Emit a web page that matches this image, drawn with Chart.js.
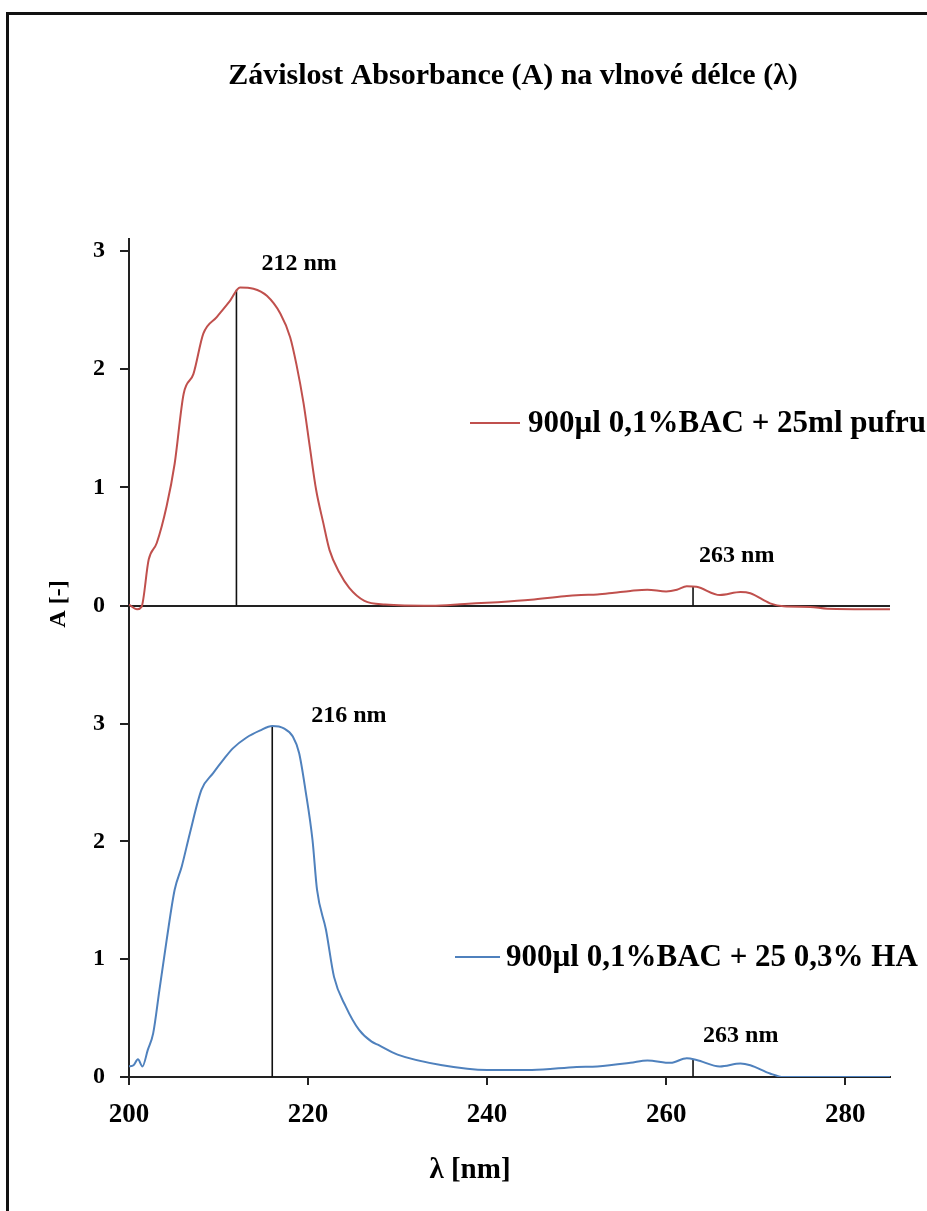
<!DOCTYPE html>
<html lang="cs">
<head>
<meta charset="utf-8">
<title>Závislost Absorbance (A) na vlnové délce (λ)</title>
<script src="https://cdn.jsdelivr.net/npm/chart.js@4.4.1/dist/chart.umd.min.js"></script>
<style>
  html, body { margin: 0; padding: 0; background: #fff; overflow: hidden; }
  #ramecek { position: absolute; left: 6px; top: 12px; width: 1000px; height: 1300px; border: 3px solid #111; }
  #graf { position: absolute; left: 0; top: 0; }
</style>
</head>
<body>
<div id="ramecek"></div>
<canvas id="graf" width="927" height="1211"></canvas>
<script>
// Spektrum: 900µl 0,1%BAC + 25ml pufru (horní graf)
const vlnaPufr = [200.0, 200.9, 201.4, 202.2, 203.1, 204.2, 205.1, 206.1, 207.2, 208.3, 209.8, 211.3, 212.4, 213.9,
  215.4, 216.9, 218.0, 218.7, 219.5, 220.2, 220.9, 221.7, 222.4, 223.5, 224.6, 226.3, 228.6, 233.8, 237.5, 241.2,
  244.9, 248.6, 250.5, 252.3, 254.2, 256.0, 257.9, 260.0, 261.2, 262.3, 263.4, 266.0, 268.3, 269.4, 271.6, 273.1,
  276.1, 278.0, 285.0];
const absPufr = [0.01, -0.03, -0.01, 0.39, 0.53, 0.84, 1.20, 1.79, 1.96, 2.30, 2.44, 2.58, 2.69, 2.68,
  2.62, 2.47, 2.27, 2.04, 1.71, 1.34, 0.98, 0.70, 0.47, 0.28, 0.15, 0.04, 0.01, 0.00, 0.015, 0.03,
  0.05, 0.08, 0.09, 0.095, 0.11, 0.125, 0.135, 0.12, 0.135, 0.165, 0.16, 0.09, 0.115, 0.105, 0.02, -0.005,
  -0.01, -0.025, -0.03];

// Spektrum: 900µl 0,1%BAC + 25 0,3% HA (dolní graf)
const vlnaHA = [200.0, 200.5, 201.0, 201.5, 202.1, 202.7, 203.4, 204.2, 205.1, 205.9, 206.8, 208.1, 209.4, 210.5,
  211.6, 213.1, 214.6, 216.0, 217.3, 218.3, 219.0, 219.7, 220.5, 221.0, 222.0, 222.9, 224.2, 225.7, 227.1, 227.9,
  230.0, 235.0, 240.0, 245.0, 250.0, 252.3, 256.0, 257.9, 260.5, 262.3, 263.4, 266.0, 268.3, 269.4, 271.6, 273.1,
  285.0];
const absHA = [0.09, 0.10, 0.15, 0.09, 0.23, 0.37, 0.74, 1.16, 1.59, 1.79, 2.07, 2.44, 2.58, 2.69,
  2.79, 2.88, 2.94, 2.98, 2.96, 2.89, 2.75, 2.44, 2.01, 1.59, 1.25, 0.85, 0.60, 0.40, 0.30, 0.27,
  0.19, 0.10, 0.06, 0.06, 0.085, 0.09, 0.12, 0.14, 0.12, 0.16, 0.145, 0.09, 0.115, 0.10, 0.03, 0.0,
  0.0];

// maxima (svislé čáry a popisky)
const maximaPufr = [212, 263];
const maximaPufrA = [2.67, 0.165];
const maximaHA = [216, 263];
const maximaHAA = [2.98, 0.15];
const popiskyPufr = ["212 nm", "263 nm"];
const popiskyHA = ["216 nm", "263 nm"];

const legenda = ["900µl 0,1%BAC + 25ml pufru", "900µl 0,1%BAC + 25 0,3% HA"];
const xTicks = [200, 220, 240, 260, 280];
const yTicks = [0, 1, 2, 3];

const PISMO = "'Liberation Serif', 'Times New Roman', serif";
const CERVENA = "#c0504d";
const MODRA = "#4f81bd";
const OSA = "#222";

function body(xs, ys) {
  return xs.map((x, i) => ({ x: x, y: ys[i] }));
}

// svislá čára od nuly k maximu
function maxCara(x, a, osa) {
  return {
    data: [{ x: x, y: 0 }, { x: x, y: a }],
    yAxisID: osa,
    borderColor: "#111",
    borderWidth: 1.6,
    pointRadius: 0,
    tension: 0
  };
}

function osaY(min, max, vaha, nulovaCara) {
  return {
    type: "linear",
    position: "left",
    stack: "A",
    stackWeight: vaha,
    min: min,
    max: max,
    afterBuildTicks: s => { s.ticks = yTicks.map(v => ({ value: v })); },
    afterFit: s => { s.width = 129; },
    border: { display: true, color: OSA, width: 2 },
    grid: {
      drawOnChartArea: nulovaCara,
      drawTicks: true,
      tickLength: 9,
      lineWidth: 2,
      color: c => (c.tick && c.tick.value === 0) ? OSA : "rgba(0,0,0,0)",
      tickColor: OSA
    },
    ticks: {
      font: { family: PISMO, size: 24, weight: "bold" },
      color: "#000",
      padding: 15
    }
  };
}

const datasets = [
  {
    label: legenda[0],
    data: body(vlnaPufr, absPufr),
    yAxisID: "yHorni",
    borderColor: CERVENA,
    borderWidth: 2,
    pointRadius: 0,
    cubicInterpolationMode: "monotone"
  },
  {
    label: legenda[1],
    data: body(vlnaHA, absHA),
    yAxisID: "yDolni",
    borderColor: MODRA,
    borderWidth: 2,
    pointRadius: 0,
    cubicInterpolationMode: "monotone"
  }
];
maximaPufr.forEach((x, i) => datasets.push(maxCara(x, maximaPufrA[i], "yHorni")));
maximaHA.forEach((x, i) => datasets.push(maxCara(x, maximaHAA[i], "yDolni")));

// nadpis, popisky os, legenda a popisky maxim
const popisky = {
  id: "popisky",
  afterDatasetsDraw(chart) {
    const ctx = chart.ctx;
    const sx = chart.scales.x;
    const yH = chart.scales.yHorni;
    const yD = chart.scales.yDolni;
    ctx.save();
    ctx.fillStyle = "#000";
    ctx.textBaseline = "middle";

    ctx.font = "bold 30px " + PISMO;
    ctx.textAlign = "center";
    ctx.fillText("Závislost Absorbance (A) na vlnové délce (λ)", 513, 76);

    ctx.font = "bold 29px " + PISMO;
    ctx.fillText("λ [nm]", 470, 1171);

    ctx.save();
    ctx.translate(59, 604);
    ctx.rotate(-Math.PI / 2);
    ctx.font = "bold 24px " + PISMO;
    ctx.fillText("A [-]", 0, 0);
    ctx.restore();

    // legenda
    ctx.textAlign = "left";
    ctx.font = "bold 31px " + PISMO;
    const polozky = [
      { barva: CERVENA, x1: 470, x2: 520, y: 423, tx: 528, text: legenda[0] },
      { barva: MODRA, x1: 455, x2: 500, y: 957, tx: 506, text: legenda[1] }
    ];
    polozky.forEach(p => {
      ctx.strokeStyle = p.barva;
      ctx.lineWidth = 2;
      ctx.beginPath();
      ctx.moveTo(p.x1, p.y);
      ctx.lineTo(p.x2, p.y);
      ctx.stroke();
      ctx.fillText(p.text, p.tx, p.y + 1);
    });

    // popisky maxim
    ctx.font = "bold 24px " + PISMO;
    const posunH = [[25, -26], [6, -30]];
    const posunD = [[39, -10], [10, -24]];
    maximaPufr.forEach((x, i) => {
      ctx.fillText(popiskyPufr[i], sx.getPixelForValue(x) + posunH[i][0], yH.getPixelForValue(maximaPufrA[i]) + posunH[i][1]);
    });
    maximaHA.forEach((x, i) => {
      ctx.fillText(popiskyHA[i], sx.getPixelForValue(x) + posunD[i][0], yD.getPixelForValue(maximaHAA[i]) + posunD[i][1]);
    });
    ctx.restore();
  }
};

new Chart(document.getElementById("graf"), {
  type: "line",
  data: { datasets: datasets },
  options: {
    responsive: false,
    animation: false,
    devicePixelRatio: 1,
    layout: { padding: { left: 0, top: 239, right: 37, bottom: 0 } },
    plugins: { legend: { display: false }, tooltip: { enabled: false } },
    scales: {
      x: {
        type: "linear",
        min: 200,
        max: 285,
        afterBuildTicks: s => { s.ticks = xTicks.map(v => ({ value: v })); },
        afterFit: s => { s.height = 134; },
        border: { display: true, color: OSA, width: 2 },
        grid: { drawOnChartArea: false, tickLength: 8, lineWidth: 2, color: OSA },
        ticks: {
          font: { family: PISMO, size: 27, weight: "bold" },
          color: "#000",
          padding: 14,
          maxRotation: 0
        }
      },
      yDolni: osaY(0, 3.71, 437, false),
      yHorni: osaY(-0.29, 3.1, 401, true)
    }
  },
  plugins: [popisky]
});
</script>
</body>
</html>
